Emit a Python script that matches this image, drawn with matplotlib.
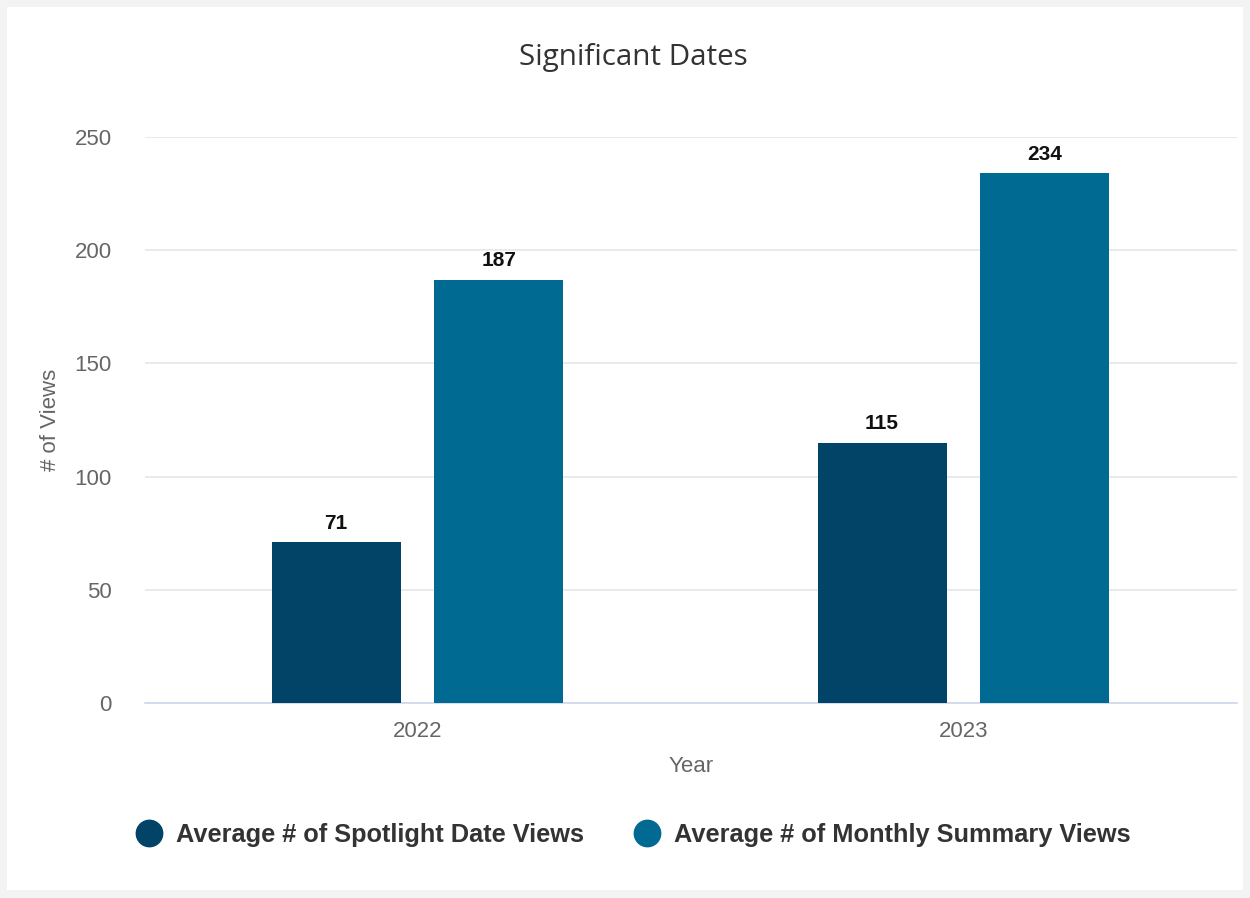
import numpy as np
import matplotlib.pyplot as plt
from matplotlib.lines import Line2D
from matplotlib.patches import Rectangle

years = ['2022', '2023']
spotlight = [71, 115]
monthly = [187, 234]
series_names = ['Average # of Spotlight Date Views', 'Average # of Monthly Summary Views']
colors = ['#014468', '#016a93']

plt.rcParams['font.family'] = ['Liberation Sans', 'DejaVu Sans']

fig = plt.figure(figsize=(12.5, 8.98), dpi=100)
fig.patch.set_facecolor('#f3f3f3')
# white card behind everything
fig.patches.append(Rectangle((7/1250, 8/898), 1236/1250, 883/898, transform=fig.transFigure,
                             facecolor='white', edgecolor='none', zorder=-10))

ax = fig.add_axes([145/1250, 1-703/898, 1092/1250, 566/898])
ax.set_facecolor('white')
x = np.arange(len(years))
w = 0.236
off = 0.149
b1 = ax.bar(x - off - 0.001, spotlight, w, color=colors[0], zorder=3)
b2 = ax.bar(x + off - 0.001, monthly, w, color=colors[1], zorder=3)
for bars, vals in ((b1, spotlight), (b2, monthly)):
    for r, v in zip(bars, vals):
        ax.annotate(str(v), (r.get_x() + r.get_width()/2, v), xytext=(0, 7),
                    textcoords='offset points', ha='center', va='bottom',
                    fontsize=15, fontweight='bold', color='#111111')

ax.set_xlim(-0.5, 1.5)
ax.set_ylim(0, 250)
ax.set_yticks([0, 50, 100, 150, 200, 250])
ax.set_xticks(x)
ax.set_xticklabels(years)
ax.grid(axis='y', color='#e6e6e6', linewidth=1.2, zorder=0)
for s in ['top', 'right', 'left']:
    ax.spines[s].set_visible(False)
ax.spines['bottom'].set_color('#ccd6eb')
ax.spines['bottom'].set_linewidth(1.2)
ax.tick_params(axis='both', length=0, labelsize=16, colors='#666666')
ax.tick_params(axis='y', pad=24)
ax.tick_params(axis='x', pad=13)
ax.set_ylabel('# of Views', fontsize=16, color='#666666', labelpad=10)
ax.set_xlabel('Year', fontsize=16, color='#666666', labelpad=10)

fig.text(633/1250, 1-57/898, 'Significant Dates', ha='center', va='center',
         fontsize=21.3, color='#333333', family=['Open Sans', 'DejaVu Sans'])

handles = [Line2D([0], [0], marker='o', linestyle='none', markersize=19,
                  markerfacecolor=c, markeredgecolor=c) for c in colors]
fig.legend(handles, series_names, loc='center', bbox_to_anchor=(632/1250, 1-835/898),
           ncol=2, frameon=False, prop={'size': 18.3, 'weight': 'bold'},
           labelcolor='#333333', handletextpad=0.45, columnspacing=1.9, handlelength=1.2)

fig.savefig('out.png', dpi=100, facecolor=fig.get_facecolor())
